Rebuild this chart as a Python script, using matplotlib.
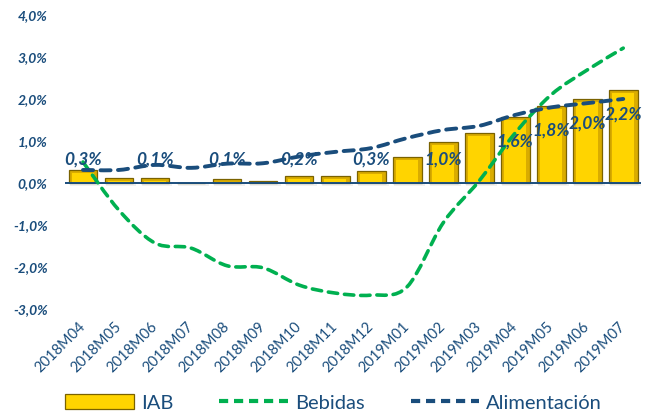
import matplotlib
matplotlib.use('Agg')
import matplotlib.pyplot as plt
from matplotlib.path import Path
from matplotlib.patches import PathPatch, Patch
from matplotlib.lines import Line2D
from matplotlib.ticker import FuncFormatter

plt.rcParams['font.family'] = ['Lato', 'DejaVu Sans']

# datos (% variación)
periodos = ['2018M04', '2018M05', '2018M06', '2018M07', '2018M08', '2018M09',
            '2018M10', '2018M11', '2018M12', '2019M01', '2019M02', '2019M03',
            '2019M04', '2019M05', '2019M06', '2019M07']
iab = [0.30, 0.12, 0.12, 0.0, 0.10, 0.05, 0.17, 0.17, 0.29, 0.62, 0.98, 1.19,
       1.57, 1.83, 2.00, 2.21]
bebidas = [0.50, -0.65, -1.43, -1.55, -1.97, -2.02, -2.43, -2.62, -2.67, -2.47,
           -0.95, 0.05, 1.19, 2.10, 2.69, 3.21]
alimentacion = [0.31, 0.31, 0.43, 0.36, 0.46, 0.47, 0.63, 0.74, 0.83, 1.07,
                1.26, 1.36, 1.62, 1.80, 1.90, 2.00]
# barras con etiqueta visible
con_etiqueta = ['2018M04', '2018M06', '2018M08', '2018M10', '2018M12', '2019M02',
                '2019M04', '2019M05', '2019M06', '2019M07']

azul = '#1a4d7c'
verde = '#00b050'
oro = '#ffd400'
oro_osc = '#d9ac00'


def curva_suave(xs, ys):
    # linea suavizada tipo Excel (Catmull-Rom -> Bezier)
    pts = list(zip(xs, ys))
    verts = [pts[0]]
    codes = [Path.MOVETO]
    n = len(pts)
    for i in range(n - 1):
        p0 = pts[max(i - 1, 0)]
        p1 = pts[i]
        p2 = pts[i + 1]
        p3 = pts[min(i + 2, n - 1)]
        c1 = (p1[0] + (p2[0] - p0[0]) / 6, p1[1] + (p2[1] - p0[1]) / 6)
        c2 = (p2[0] - (p3[0] - p1[0]) / 6, p2[1] - (p3[1] - p1[1]) / 6)
        verts += [c1, c2, p2]
        codes += [Path.CURVE4] * 3
    return Path(verts, codes)


fig = plt.figure(figsize=(6.53, 4.15), dpi=100)
ax = fig.add_axes([0.0995, 0.2554, 0.8825, 0.7086])

x = list(range(len(periodos)))

# sombra
ax.bar([v + 0.06 for v in x], [-0.07] * len(x), width=0.85, color='#000000',
       alpha=0.06, zorder=1)
ax.bar(x, iab, width=0.8, color=oro_osc, edgecolor='#7a6200',
       linewidth=0.9, zorder=2)
# cara frontal (efecto bisel)
ax.bar(x, [max(v - 0.07, 0) for v in iab], width=0.6, color=oro,
       edgecolor='none', zorder=2.5)

ax.axhline(0, color=azul, lw=1.4, zorder=3)

ax.add_patch(PathPatch(curva_suave(x, bebidas), fill=False, edgecolor=verde,
                       lw=2.6, linestyle=(0, (2.6, 1.9)), capstyle='round',
                       zorder=4, transform=ax.transData))
ax.add_patch(PathPatch(curva_suave(x, alimentacion), fill=False, edgecolor=azul,
                       lw=2.8, linestyle=(0, (2.6, 1.9)), capstyle='round',
                       zorder=5, transform=ax.transData))

for xi, p, v in zip(x, periodos, iab):
    if p in con_etiqueta:
        yl = max(v - 0.58, 0.55)
        ax.text(xi, yl, f'{v:.1f}'.replace('.', ',') + '%', ha='center',
                va='center', fontsize=12.5, fontweight='bold', style='italic',
                color=azul, zorder=6)

ax.set_xlim(-0.5, len(x) - 0.5)
ax.set_ylim(-3, 4)
ax.set_yticks([-3, -2, -1, 0, 1, 2, 3, 4])
ax.yaxis.set_major_formatter(FuncFormatter(lambda v, _: f'{v:.1f}'.replace('.', ',') + '%'))
for lab in ax.get_yticklabels():
    lab.set_fontweight('bold')
    lab.set_style('italic')
ax.tick_params(axis='y', length=0, pad=12.5, labelsize=10, labelcolor=azul)

ax.set_xticks(x)
ax.set_xticklabels(periodos, rotation=45, ha='right', va='center',
                   rotation_mode='anchor')
ax.tick_params(axis='x', length=0, pad=11, labelsize=10.5, labelcolor=azul)

for s in ax.spines.values():
    s.set_visible(False)

handles = [Patch(facecolor=oro, edgecolor='#7a6200', linewidth=0.9),
           Line2D([], [], color=verde, lw=3, linestyle=(0, (2.2, 1.4))),
           Line2D([], [], color=azul, lw=3, linestyle=(0, (2.2, 1.4)))]
fig.legend(handles, ['IAB', 'Bebidas', 'Alimentación'], loc='center left',
           bbox_to_anchor=(0.072, 0.029), ncol=3, frameon=False, fontsize=14.5,
           handlelength=3.4, handleheight=0.7, columnspacing=2.3,
           handletextpad=0.35, labelcolor=azul)

fig.savefig('out.png', dpi=100)
